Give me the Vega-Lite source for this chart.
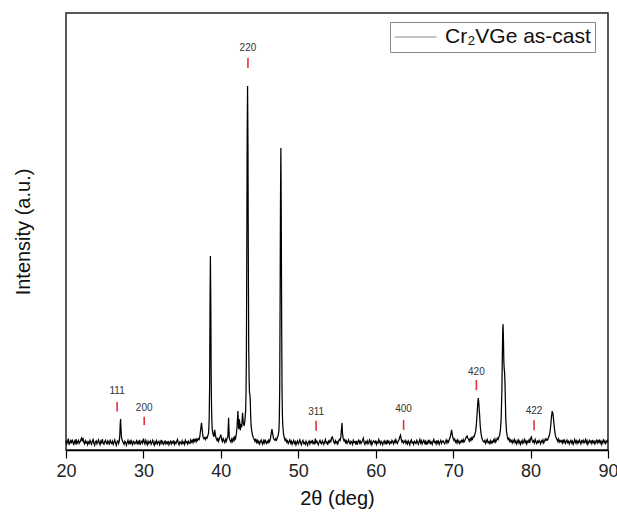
{
"$schema": "https://vega.github.io/schema/vega-lite/v6.json",
"width": 542, "height": 437,
"autosize": {"type": "none"},
"padding": {"left": 66, "top": 13, "right": 9, "bottom": 65},
"background": "white",
"config": {"font": "Liberation Sans", "view": {"stroke": "#222", "strokeWidth": 1.5}},
"datasets": {
"xrd": [
{"t":20.0,"i":22},{"t":20.1,"i":14},{"t":20.2,"i":19},{"t":20.3,"i":26},{"t":20.4,"i":12},{"t":20.5,"i":17},{"t":20.6,"i":21},{"t":20.7,"i":15},{"t":20.8,"i":24},{"t":20.9,"i":18},
{"t":21.0,"i":11},{"t":21.1,"i":20},{"t":21.2,"i":16},{"t":21.3,"i":25},{"t":21.4,"i":13},{"t":21.5,"i":19},{"t":21.6,"i":22},{"t":21.7,"i":15},{"t":21.8,"i":18},{"t":21.9,"i":23},
{"t":22.0,"i":27},{"t":22.1,"i":20},{"t":22.2,"i":28},{"t":22.3,"i":17},{"t":22.4,"i":14},{"t":22.5,"i":21},{"t":22.6,"i":16},{"t":22.7,"i":19},{"t":22.8,"i":12},{"t":22.9,"i":18},
{"t":23.0,"i":15},{"t":23.1,"i":22},{"t":23.2,"i":17},{"t":23.3,"i":13},{"t":23.4,"i":20},{"t":23.5,"i":24},{"t":23.6,"i":16},{"t":23.7,"i":11},{"t":23.8,"i":19},{"t":23.9,"i":21},
{"t":24.0,"i":14},{"t":24.1,"i":18},{"t":24.2,"i":23},{"t":24.3,"i":16},{"t":24.4,"i":12},{"t":24.5,"i":20},{"t":24.6,"i":17},{"t":24.7,"i":25},{"t":24.8,"i":15},{"t":24.9,"i":13},
{"t":25.0,"i":19},{"t":25.1,"i":22},{"t":25.2,"i":16},{"t":25.3,"i":14},{"t":25.4,"i":21},{"t":25.5,"i":18},{"t":25.6,"i":12},{"t":25.7,"i":24},{"t":25.8,"i":17},{"t":25.9,"i":15},
{"t":26.0,"i":20},{"t":26.1,"i":13},{"t":26.2,"i":18},{"t":26.3,"i":23},{"t":26.4,"i":16},{"t":26.5,"i":11},{"t":26.6,"i":19},{"t":26.7,"i":21},{"t":26.8,"i":15},{"t":26.9,"i":22},
{"t":26.95,"i":35},{"t":27.0,"i":58},{"t":27.05,"i":71},{"t":27.1,"i":50},{"t":27.15,"i":32},{"t":27.2,"i":26},{"t":27.3,"i":21},{"t":27.4,"i":16},{"t":27.5,"i":13},{"t":27.6,"i":20},{"t":27.7,"i":18},{"t":27.8,"i":11},{"t":27.9,"i":17},
{"t":28.0,"i":22},{"t":28.1,"i":15},{"t":28.2,"i":19},{"t":28.3,"i":13},{"t":28.4,"i":24},{"t":28.5,"i":16},{"t":28.6,"i":12},{"t":28.7,"i":20},{"t":28.8,"i":18},{"t":28.9,"i":14},
{"t":29.0,"i":17},{"t":29.1,"i":21},{"t":29.2,"i":13},{"t":29.3,"i":19},{"t":29.4,"i":15},{"t":29.5,"i":23},{"t":29.6,"i":12},{"t":29.7,"i":18},{"t":29.8,"i":20},{"t":29.9,"i":16},
{"t":30.0,"i":26},{"t":30.1,"i":19},{"t":30.2,"i":14},{"t":30.3,"i":22},{"t":30.4,"i":17},{"t":30.5,"i":12},{"t":30.6,"i":20},{"t":30.7,"i":15},{"t":30.8,"i":18},{"t":30.9,"i":21},
{"t":31.0,"i":13},{"t":31.1,"i":17},{"t":31.2,"i":22},{"t":31.3,"i":16},{"t":31.4,"i":11},{"t":31.5,"i":19},{"t":31.6,"i":15},{"t":31.7,"i":21},{"t":31.8,"i":14},{"t":31.9,"i":18},
{"t":32.0,"i":20},{"t":32.1,"i":12},{"t":32.2,"i":17},{"t":32.3,"i":23},{"t":32.4,"i":15},{"t":32.5,"i":19},{"t":32.6,"i":13},{"t":32.7,"i":16},{"t":32.8,"i":22},{"t":32.9,"i":14},
{"t":33.0,"i":18},{"t":33.1,"i":15},{"t":33.2,"i":21},{"t":33.3,"i":12},{"t":33.4,"i":17},{"t":33.5,"i":20},{"t":33.6,"i":14},{"t":33.7,"i":19},{"t":33.8,"i":16},{"t":33.9,"i":22},
{"t":34.0,"i":13},{"t":34.1,"i":18},{"t":34.2,"i":15},{"t":34.3,"i":20},{"t":34.4,"i":24},{"t":34.5,"i":16},{"t":34.6,"i":12},{"t":34.7,"i":19},{"t":34.8,"i":17},{"t":34.9,"i":14},
{"t":35.0,"i":21},{"t":35.1,"i":15},{"t":35.2,"i":18},{"t":35.3,"i":13},{"t":35.4,"i":22},{"t":35.5,"i":17},{"t":35.6,"i":19},{"t":35.7,"i":14},{"t":35.8,"i":20},{"t":35.9,"i":16},
{"t":36.0,"i":15},{"t":36.1,"i":23},{"t":36.2,"i":18},{"t":36.3,"i":22},{"t":36.4,"i":17},{"t":36.5,"i":26},{"t":36.6,"i":20},{"t":36.7,"i":24},{"t":36.8,"i":19},{"t":36.9,"i":25},
{"t":37.0,"i":22},{"t":37.1,"i":26},{"t":37.2,"i":24},{"t":37.3,"i":33},{"t":37.4,"i":48},{"t":37.5,"i":62},{"t":37.6,"i":45},{"t":37.7,"i":30},{"t":37.8,"i":26},{"t":37.9,"i":28},
{"t":38.0,"i":24},{"t":38.1,"i":29},{"t":38.2,"i":27},{"t":38.3,"i":32},{"t":38.4,"i":38},{"t":38.45,"i":50},{"t":38.5,"i":80},{"t":38.55,"i":150},{"t":38.6,"i":330},{"t":38.65,"i":444},{"t":38.7,"i":340},{"t":38.75,"i":170},{"t":38.8,"i":95},{"t":38.85,"i":60},{"t":38.9,"i":45},
{"t":39.0,"i":36},{"t":39.1,"i":30},{"t":39.2,"i":46},{"t":39.3,"i":34},{"t":39.4,"i":26},{"t":39.5,"i":22},{"t":39.6,"i":28},{"t":39.7,"i":20},{"t":39.8,"i":25},{"t":39.9,"i":30},
{"t":40.0,"i":35},{"t":40.1,"i":24},{"t":40.2,"i":19},{"t":40.3,"i":26},{"t":40.4,"i":21},{"t":40.5,"i":17},{"t":40.6,"i":24},{"t":40.7,"i":20},{"t":40.8,"i":27},{"t":40.9,"i":30},
{"t":40.95,"i":50},{"t":41.0,"i":74},{"t":41.05,"i":45},{"t":41.1,"i":26},{"t":41.2,"i":22},{"t":41.3,"i":18},{"t":41.4,"i":25},{"t":41.5,"i":20},{"t":41.6,"i":27},{"t":41.7,"i":22},{"t":41.8,"i":30},{"t":41.9,"i":26},
{"t":42.0,"i":36},{"t":42.1,"i":55},{"t":42.2,"i":89},{"t":42.25,"i":70},{"t":42.3,"i":48},{"t":42.4,"i":70},{"t":42.5,"i":45},{"t":42.6,"i":60},{"t":42.7,"i":52},{"t":42.8,"i":85},{"t":42.9,"i":62},
{"t":43.0,"i":55},{"t":43.1,"i":66},{"t":43.2,"i":90},{"t":43.25,"i":130},{"t":43.3,"i":220},{"t":43.35,"i":450},{"t":43.4,"i":720},{"t":43.45,"i":833},{"t":43.5,"i":700},{"t":43.55,"i":420},{"t":43.6,"i":230},{"t":43.65,"i":160},{"t":43.7,"i":130},{"t":43.75,"i":128},{"t":43.8,"i":112},{"t":43.85,"i":80},{"t":43.9,"i":58},
{"t":44.0,"i":42},{"t":44.1,"i":33},{"t":44.2,"i":28},{"t":44.3,"i":24},{"t":44.4,"i":20},{"t":44.5,"i":26},{"t":44.6,"i":18},{"t":44.7,"i":22},{"t":44.8,"i":16},{"t":44.9,"i":20},
{"t":45.0,"i":14},{"t":45.1,"i":19},{"t":45.2,"i":23},{"t":45.3,"i":17},{"t":45.4,"i":13},{"t":45.5,"i":21},{"t":45.6,"i":16},{"t":45.7,"i":24},{"t":45.8,"i":18},{"t":45.9,"i":15},
{"t":46.0,"i":20},{"t":46.1,"i":17},{"t":46.2,"i":23},{"t":46.3,"i":19},{"t":46.4,"i":26},{"t":46.5,"i":38},{"t":46.6,"i":48},{"t":46.7,"i":36},{"t":46.8,"i":27},{"t":46.9,"i":24},
{"t":47.0,"i":22},{"t":47.1,"i":26},{"t":47.2,"i":23},{"t":47.3,"i":29},{"t":47.4,"i":33},{"t":47.5,"i":45},{"t":47.55,"i":70},{"t":47.6,"i":140},{"t":47.65,"i":330},{"t":47.7,"i":560},{"t":47.75,"i":691},{"t":47.8,"i":540},{"t":47.85,"i":300},{"t":47.9,"i":140},{"t":47.95,"i":80},
{"t":48.0,"i":55},{"t":48.1,"i":36},{"t":48.2,"i":28},{"t":48.3,"i":22},{"t":48.4,"i":25},{"t":48.5,"i":18},{"t":48.6,"i":21},{"t":48.7,"i":15},{"t":48.8,"i":19},{"t":48.9,"i":23},
{"t":49.0,"i":16},{"t":49.1,"i":20},{"t":49.2,"i":13},{"t":49.3,"i":18},{"t":49.4,"i":22},{"t":49.5,"i":15},{"t":49.6,"i":19},{"t":49.7,"i":12},{"t":49.8,"i":17},{"t":49.9,"i":21},
{"t":50.0,"i":14},{"t":50.1,"i":18},{"t":50.2,"i":23},{"t":50.3,"i":16},{"t":50.4,"i":12},{"t":50.5,"i":19},{"t":50.6,"i":22},{"t":50.7,"i":15},{"t":50.8,"i":17},{"t":50.9,"i":13},
{"t":51.0,"i":20},{"t":51.1,"i":16},{"t":51.2,"i":11},{"t":51.3,"i":18},{"t":51.4,"i":21},{"t":51.5,"i":14},{"t":51.6,"i":19},{"t":51.7,"i":17},{"t":51.8,"i":23},{"t":51.9,"i":15},
{"t":52.0,"i":18},{"t":52.1,"i":13},{"t":52.2,"i":26},{"t":52.3,"i":17},{"t":52.4,"i":20},{"t":52.5,"i":15},{"t":52.6,"i":12},{"t":52.7,"i":19},{"t":52.8,"i":22},{"t":52.9,"i":16},
{"t":53.0,"i":14},{"t":53.1,"i":21},{"t":53.2,"i":17},{"t":53.3,"i":13},{"t":53.4,"i":19},{"t":53.5,"i":24},{"t":53.6,"i":16},{"t":53.7,"i":18},{"t":53.8,"i":12},{"t":53.9,"i":20},
{"t":54.0,"i":17},{"t":54.1,"i":22},{"t":54.2,"i":19},{"t":54.3,"i":28},{"t":54.4,"i":30},{"t":54.5,"i":24},{"t":54.6,"i":18},{"t":54.7,"i":15},{"t":54.8,"i":21},{"t":54.9,"i":16},
{"t":55.0,"i":19},{"t":55.1,"i":14},{"t":55.2,"i":20},{"t":55.3,"i":24},{"t":55.4,"i":22},{"t":55.5,"i":30},{"t":55.6,"i":52},{"t":55.65,"i":62},{"t":55.7,"i":40},{"t":55.8,"i":26},{"t":55.9,"i":21},
{"t":56.0,"i":24},{"t":56.1,"i":17},{"t":56.2,"i":21},{"t":56.3,"i":15},{"t":56.4,"i":19},{"t":56.5,"i":23},{"t":56.6,"i":16},{"t":56.7,"i":14},{"t":56.8,"i":20},{"t":56.9,"i":18},
{"t":57.0,"i":13},{"t":57.1,"i":22},{"t":57.2,"i":17},{"t":57.3,"i":19},{"t":57.4,"i":15},{"t":57.5,"i":21},{"t":57.6,"i":12},{"t":57.7,"i":18},{"t":57.8,"i":24},{"t":57.9,"i":16},
{"t":58.0,"i":20},{"t":58.1,"i":15},{"t":58.2,"i":18},{"t":58.3,"i":22},{"t":58.4,"i":27},{"t":58.5,"i":17},{"t":58.6,"i":13},{"t":58.7,"i":19},{"t":58.8,"i":16},{"t":58.9,"i":21},
{"t":59.0,"i":14},{"t":59.1,"i":18},{"t":59.2,"i":23},{"t":59.3,"i":15},{"t":59.4,"i":20},{"t":59.5,"i":12},{"t":59.6,"i":17},{"t":59.7,"i":21},{"t":59.8,"i":19},{"t":59.9,"i":16},
{"t":60.0,"i":22},{"t":60.1,"i":13},{"t":60.2,"i":18},{"t":60.3,"i":16},{"t":60.4,"i":24},{"t":60.5,"i":19},{"t":60.6,"i":14},{"t":60.7,"i":20},{"t":60.8,"i":17},{"t":60.9,"i":12},
{"t":61.0,"i":18},{"t":61.1,"i":21},{"t":61.2,"i":15},{"t":61.3,"i":19},{"t":61.4,"i":13},{"t":61.5,"i":23},{"t":61.6,"i":17},{"t":61.7,"i":20},{"t":61.8,"i":14},{"t":61.9,"i":18},
{"t":62.0,"i":16},{"t":62.1,"i":22},{"t":62.2,"i":19},{"t":62.3,"i":14},{"t":62.4,"i":21},{"t":62.5,"i":17},{"t":62.6,"i":24},{"t":62.7,"i":18},{"t":62.8,"i":15},{"t":62.9,"i":20},
{"t":63.0,"i":23},{"t":63.1,"i":30},{"t":63.2,"i":34},{"t":63.3,"i":24},{"t":63.4,"i":18},{"t":63.5,"i":21},{"t":63.6,"i":16},{"t":63.7,"i":19},{"t":63.8,"i":22},{"t":63.9,"i":15},
{"t":64.0,"i":19},{"t":64.1,"i":14},{"t":64.2,"i":21},{"t":64.3,"i":17},{"t":64.4,"i":12},{"t":64.5,"i":20},{"t":64.6,"i":23},{"t":64.7,"i":16},{"t":64.8,"i":18},{"t":64.9,"i":13},
{"t":65.0,"i":20},{"t":65.1,"i":17},{"t":65.2,"i":15},{"t":65.3,"i":22},{"t":65.4,"i":18},{"t":65.5,"i":13},{"t":65.6,"i":19},{"t":65.7,"i":24},{"t":65.8,"i":16},{"t":65.9,"i":21},
{"t":66.0,"i":14},{"t":66.1,"i":19},{"t":66.2,"i":22},{"t":66.3,"i":16},{"t":66.4,"i":20},{"t":66.5,"i":12},{"t":66.6,"i":18},{"t":66.7,"i":15},{"t":66.8,"i":23},{"t":66.9,"i":17},
{"t":67.0,"i":21},{"t":67.1,"i":15},{"t":67.2,"i":18},{"t":67.3,"i":13},{"t":67.4,"i":20},{"t":67.5,"i":24},{"t":67.6,"i":17},{"t":67.7,"i":19},{"t":67.8,"i":14},{"t":67.9,"i":22},
{"t":68.0,"i":16},{"t":68.1,"i":20},{"t":68.2,"i":13},{"t":68.3,"i":18},{"t":68.4,"i":22},{"t":68.5,"i":15},{"t":68.6,"i":19},{"t":68.7,"i":21},{"t":68.8,"i":17},{"t":68.9,"i":14},
{"t":69.0,"i":19},{"t":69.1,"i":23},{"t":69.2,"i":16},{"t":69.3,"i":21},{"t":69.4,"i":18},{"t":69.5,"i":24},{"t":69.6,"i":28},{"t":69.7,"i":36},{"t":69.8,"i":46},{"t":69.9,"i":34},
{"t":70.0,"i":27},{"t":70.1,"i":22},{"t":70.2,"i":25},{"t":70.3,"i":18},{"t":70.4,"i":21},{"t":70.5,"i":16},{"t":70.6,"i":23},{"t":70.7,"i":19},{"t":70.8,"i":15},{"t":70.9,"i":20},
{"t":71.0,"i":17},{"t":71.1,"i":22},{"t":71.2,"i":19},{"t":71.3,"i":24},{"t":71.4,"i":18},{"t":71.5,"i":21},{"t":71.6,"i":26},{"t":71.7,"i":30},{"t":71.8,"i":32},{"t":71.9,"i":27},
{"t":72.0,"i":24},{"t":72.1,"i":20},{"t":72.2,"i":26},{"t":72.3,"i":22},{"t":72.4,"i":28},{"t":72.5,"i":25},{"t":72.6,"i":31},{"t":72.7,"i":30},{"t":72.8,"i":36},{"t":72.9,"i":42},
{"t":73.0,"i":58},{"t":73.1,"i":85},{"t":73.2,"i":112},{"t":73.25,"i":119},{"t":73.3,"i":110},{"t":73.4,"i":85},{"t":73.5,"i":55},{"t":73.6,"i":38},{"t":73.7,"i":28},{"t":73.8,"i":23},{"t":73.9,"i":20},
{"t":74.0,"i":18},{"t":74.1,"i":22},{"t":74.2,"i":15},{"t":74.3,"i":20},{"t":74.4,"i":24},{"t":74.5,"i":17},{"t":74.6,"i":19},{"t":74.7,"i":13},{"t":74.8,"i":21},{"t":74.9,"i":16},
{"t":75.0,"i":20},{"t":75.1,"i":17},{"t":75.2,"i":23},{"t":75.3,"i":19},{"t":75.4,"i":25},{"t":75.5,"i":18},{"t":75.6,"i":22},{"t":75.7,"i":27},{"t":75.8,"i":24},{"t":75.9,"i":30},
{"t":76.0,"i":34},{"t":76.1,"i":45},{"t":76.2,"i":70},{"t":76.3,"i":140},{"t":76.35,"i":210},{"t":76.4,"i":270},{"t":76.45,"i":288},{"t":76.5,"i":250},{"t":76.55,"i":200},{"t":76.6,"i":185},{"t":76.65,"i":176},{"t":76.7,"i":150},{"t":76.75,"i":110},{"t":76.8,"i":70},{"t":76.9,"i":42},
{"t":77.0,"i":30},{"t":77.1,"i":24},{"t":77.2,"i":27},{"t":77.3,"i":20},{"t":77.4,"i":23},{"t":77.5,"i":18},{"t":77.6,"i":22},{"t":77.7,"i":16},{"t":77.8,"i":20},{"t":77.9,"i":24},
{"t":78.0,"i":17},{"t":78.1,"i":21},{"t":78.2,"i":14},{"t":78.3,"i":19},{"t":78.4,"i":23},{"t":78.5,"i":16},{"t":78.6,"i":20},{"t":78.7,"i":13},{"t":78.8,"i":18},{"t":78.9,"i":22},
{"t":79.0,"i":15},{"t":79.1,"i":19},{"t":79.2,"i":24},{"t":79.3,"i":17},{"t":79.4,"i":21},{"t":79.5,"i":14},{"t":79.6,"i":20},{"t":79.7,"i":18},{"t":79.8,"i":23},{"t":79.9,"i":16},
{"t":80.0,"i":26},{"t":80.1,"i":30},{"t":80.2,"i":22},{"t":80.3,"i":18},{"t":80.4,"i":21},{"t":80.5,"i":16},{"t":80.6,"i":24},{"t":80.7,"i":19},{"t":80.8,"i":15},{"t":80.9,"i":20},
{"t":81.0,"i":17},{"t":81.1,"i":22},{"t":81.2,"i":19},{"t":81.3,"i":14},{"t":81.4,"i":21},{"t":81.5,"i":18},{"t":81.6,"i":23},{"t":81.7,"i":16},{"t":81.8,"i":20},{"t":81.9,"i":25},
{"t":82.0,"i":22},{"t":82.1,"i":25},{"t":82.2,"i":23},{"t":82.3,"i":28},{"t":82.4,"i":32},{"t":82.5,"i":40},{"t":82.6,"i":55},{"t":82.7,"i":76},{"t":82.8,"i":89},{"t":82.9,"i":82},
{"t":83.0,"i":64},{"t":83.1,"i":46},{"t":83.2,"i":34},{"t":83.3,"i":28},{"t":83.4,"i":24},{"t":83.5,"i":20},{"t":83.6,"i":25},{"t":83.7,"i":18},{"t":83.8,"i":22},{"t":83.9,"i":19},
{"t":84.0,"i":21},{"t":84.1,"i":16},{"t":84.2,"i":24},{"t":84.3,"i":18},{"t":84.4,"i":22},{"t":84.5,"i":15},{"t":84.6,"i":19},{"t":84.7,"i":23},{"t":84.8,"i":17},{"t":84.9,"i":20},
{"t":85.0,"i":14},{"t":85.1,"i":19},{"t":85.2,"i":22},{"t":85.3,"i":16},{"t":85.4,"i":20},{"t":85.5,"i":13},{"t":85.6,"i":18},{"t":85.7,"i":24},{"t":85.8,"i":17},{"t":85.9,"i":21},
{"t":86.0,"i":15},{"t":86.1,"i":20},{"t":86.2,"i":17},{"t":86.3,"i":23},{"t":86.4,"i":19},{"t":86.5,"i":14},{"t":86.6,"i":21},{"t":86.7,"i":18},{"t":86.8,"i":22},{"t":86.9,"i":16},
{"t":87.0,"i":19},{"t":87.1,"i":24},{"t":87.2,"i":16},{"t":87.3,"i":21},{"t":87.4,"i":13},{"t":87.5,"i":18},{"t":87.6,"i":22},{"t":87.7,"i":17},{"t":87.8,"i":20},{"t":87.9,"i":15},
{"t":88.0,"i":23},{"t":88.1,"i":17},{"t":88.2,"i":20},{"t":88.3,"i":14},{"t":88.4,"i":19},{"t":88.5,"i":22},{"t":88.6,"i":16},{"t":88.7,"i":21},{"t":88.8,"i":18},{"t":88.9,"i":24},
{"t":89.0,"i":16},{"t":89.1,"i":20},{"t":89.2,"i":13},{"t":89.3,"i":19},{"t":89.4,"i":23},{"t":89.5,"i":17},{"t":89.6,"i":21},{"t":89.7,"i":15},{"t":89.8,"i":19},{"t":89.9,"i":22},{"t":90.0,"i":18}
],
"hkl": [
{"h":"111","t":26.6,"i":88,"i2":110,"li":136},
{"h":"200","t":30.1,"i":57,"i2":76,"li":95},
{"h":"220","t":43.5,"i":874,"i2":897,"li":921},
{"h":"311","t":52.3,"i":44,"i2":67,"li":87},
{"h":"400","t":63.6,"i":46,"i2":69,"li":94},
{"h":"420","t":73.0,"i":137,"i2":160,"li":178},
{"h":"422","t":80.45,"i":45,"i2":68,"li":89}
]
},
"layer": [
{
"data": {"name": "xrd"},
"mark": {"type": "line", "strokeWidth": 1.25, "interpolate": "linear"},
"encoding": {
"x": {"field": "t", "type": "quantitative", "title": "2θ (deg)",
  "scale": {"domain": [20, 90], "nice": false, "zero": false},
  "axis": {"values": [20,25,30,35,40,45,50,55,60,65,70,75,80,85,90],
    "labelExpr": "datum.value % 10 === 0 ? datum.label : ''",
    "grid": false, "domainColor": "#000", "domainWidth": 1.5,
    "tickColor": "#000", "tickWidth": 1.2,
    "tickSize": {"condition": {"test": "datum.value % 10 === 0", "value": 8}, "value": 5},
    "labelFontSize": 18, "labelColor": "#222", "labelPadding": 4, "labelFlush": false,
    "titleFontSize": 20, "titleFontWeight": "normal", "titleColor": "#111", "titlePadding": 8}},
"y": {"field": "i", "type": "quantitative", "title": "Intensity (a.u.)",
  "scale": {"domain": [0, 1000], "nice": false},
  "axis": {"ticks": false, "labels": false, "domain": false, "grid": false,
    "titleFontSize": 20, "titleFontWeight": "normal", "titleColor": "#111", "titlePadding": 33}},
"color": {"datum": "Cr₂VGe as-cast", "scale": {"range": ["#000000"]},
  "legend": {"title": null, "orient": "none", "legendX": 324, "legendY": 9,
    "strokeColor": "#888", "fillColor": "white", "padding": 4,
    "symbolType": "stroke", "symbolSize": 1764, "symbolStrokeWidth": 1, "symbolOpacity": 0.45,
    "clipHeight": 22,
    "labelFontSize": 21, "labelColor": "#111", "labelOffset": 8, "labelLimit": 300}}
}
},
{
"data": {"name": "hkl"},
"mark": {"type": "rule", "color": "#e8303c", "strokeWidth": 1.6},
"encoding": {
"x": {"field": "t", "type": "quantitative", "title": "2θ (deg)"},
"y": {"field": "i", "type": "quantitative", "title": "Intensity (a.u.)"},
"y2": {"field": "i2"}
}
},
{
"data": {"name": "hkl"},
"mark": {"type": "text", "fontSize": 10, "color": "#333", "baseline": "middle", "align": "center"},
"encoding": {
"x": {"field": "t", "type": "quantitative", "title": "2θ (deg)"},
"y": {"field": "li", "type": "quantitative", "title": "Intensity (a.u.)"},
"text": {"field": "h"}
}
}
]
}
